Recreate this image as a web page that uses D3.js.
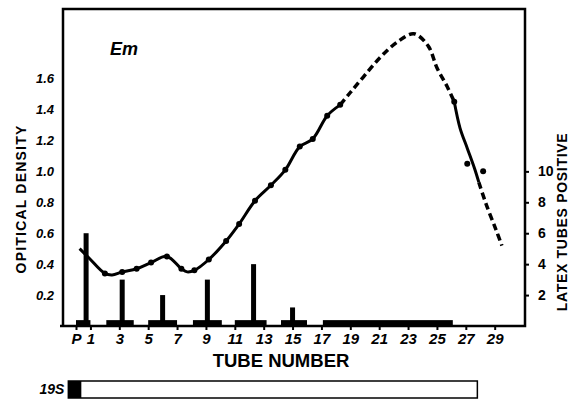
<!DOCTYPE html>
<meta charset="utf-8">
<script src="https://d3js.org/d3.v7.min.js"></script>
<body style="margin:0;background:#fff">
<div id="my_dataviz"></div>
<script>
// optical density curve (left axis), solid part with dots
const odTubes  = [0.25, 0.9, 2.0, 2.5, 3.2, 4.2, 5.2, 6.3, 7.3, 7.7, 8.2, 9.2, 10.4, 11.3, 12.4, 13.5, 14.5, 15.5, 16.4, 17.4, 18.3];
const odValues = [0.50, 0.44, 0.34, 0.33, 0.35, 0.37, 0.41, 0.45, 0.37, 0.35, 0.36, 0.43, 0.55, 0.66, 0.81, 0.91, 1.01, 1.16, 1.21, 1.36, 1.43];
// dashed peak
const peakTubes  = [18.3, 19.0, 19.9, 21.1, 22.3, 23.4, 24.4, 25.0, 25.7, 26.2];
const peakValues = [1.43, 1.51, 1.61, 1.74, 1.84, 1.89, 1.81, 1.67, 1.55, 1.45];
// solid descent
const fallTubes  = [26.2, 26.6, 27.1, 27.6, 27.9];
const fallValues = [1.45, 1.28, 1.15, 1.02, 0.93];
// dashed tail
const tailTubes  = [27.9, 28.4, 29.1, 29.5];
const tailValues = [0.93, 0.79, 0.62, 0.52];
// measured points
const dotTubes  = [2.0, 3.2, 4.2, 5.2, 6.3, 7.3, 8.2, 9.2, 10.4, 11.3, 12.4, 13.5, 14.5, 15.5, 16.4, 17.4, 18.3, 26.2, 27.1, 28.2];
const dotValues = [0.34, 0.35, 0.37, 0.41, 0.45, 0.37, 0.36, 0.43, 0.55, 0.66, 0.81, 0.91, 1.01, 1.16, 1.21, 1.36, 1.43, 1.45, 1.05, 1.00];

// latex tubes positive (right axis)
const latexTubes  = [0.7, 3.2, 6.0, 9.1, 12.3, 15.0];
const latexValues = [6, 3, 2, 3, 4, 1.2];
// tested tube ranges drawn as low blocks on the axis
const rangeStart = [0, 2.1, 5.0, 8.1, 11.0, 14.2, 17.1];
const rangeEnd   = [1, 4.0, 7.0, 10.1, 13.2, 16.0, 26.1];
const rangeLevel = 0.38;

// 19S band
const band19S = [-0.53, 27.8];
const fill19S = [-0.53, 0.37];

const xTicks = [0, 1, 3, 5, 7, 9, 11, 13, 15, 17, 19, 21, 23, 25, 27, 29];
const odTicks = [0.2, 0.4, 0.6, 0.8, 1.0, 1.2, 1.4, 1.6];
const latexTicks = [2, 4, 6, 8, 10];

const margin = {top: 9, right: 46, bottom: 78, left: 63},
  width = 571 - margin.left - margin.right,
  height = 404 - margin.top - margin.bottom;

const svg = d3.select("#my_dataviz")
  .append("svg")
    .attr("width", 571)
    .attr("height", 404)
  .append("g")
    .attr("transform", `translate(${margin.left}, ${margin.top})`);

const x = d3.scaleLinear().domain([-0.9, 31.1]).range([0, width]);
const y = d3.scaleLinear().domain([0, 2.05]).range([height, 0]);
const y2 = d3.scaleLinear().domain([0, 20.5]).range([height, 0]);

const numFont = "'Liberation Sans', Arial, sans-serif";

// x axis
const xAxis = svg.append("g")
  .attr("transform", `translate(0, ${height})`)
  .call(d3.axisBottom(x).tickValues(xTicks).tickSize(4).tickPadding(3)
    .tickFormat(d => d === 0 ? "P" : d));
xAxis.select(".domain").remove();
xAxis.selectAll("line").attr("stroke-width", 2);
xAxis.selectAll("text")
  .style("font-family", numFont).style("font-size", "15px")
  .style("font-weight", "bold").style("font-style", "italic");

// left axis labels only
const yAxis = svg.append("g")
  .call(d3.axisLeft(y).tickValues(odTicks).tickSize(0).tickPadding(9)
    .tickFormat(d3.format(".1f")));
yAxis.select(".domain").remove();
yAxis.selectAll("text")
  .style("font-family", numFont).style("font-size", "13px")
  .style("font-weight", "bold").style("font-style", "italic");

// right axis
const yAxis2 = svg.append("g")
  .attr("transform", `translate(${width}, 0)`)
  .call(d3.axisRight(y2).tickValues(latexTicks).tickSize(4).tickPadding(9));
yAxis2.select(".domain").remove();
yAxis2.selectAll("line").attr("stroke-width", 2);
yAxis2.selectAll("text")
  .style("font-family", numFont).style("font-size", "14px")
  .style("font-weight", "bold");

// frame
svg.append("path")
  .attr("d", `M-3,${height}H${width}V0H0V${height}`)
  .attr("fill", "none").attr("stroke", "#000").attr("stroke-width", 2.5);

// range blocks
svg.append("g").selectAll("rect")
  .data(rangeStart.map((s, i) => [s, rangeEnd[i]]))
  .join("rect")
    .attr("x", d => x(d[0]))
    .attr("width", d => x(d[1]) - x(d[0]))
    .attr("y", y2(rangeLevel))
    .attr("height", height - y2(rangeLevel))
    .attr("fill", "#000");

// latex bars
svg.append("g").selectAll("rect")
  .data(latexTubes.map((t, i) => [t, latexValues[i]]))
  .join("rect")
    .attr("x", d => x(d[0]) - 2.5)
    .attr("width", 5)
    .attr("y", d => y2(d[1]))
    .attr("height", d => height - y2(d[1]))
    .attr("fill", "#000");

// curves
const line = d3.line().x(d => x(d[0])).y(d => y(d[1])).curve(d3.curveCatmullRom);
function seg(ts, vs, dash) {
  svg.append("path")
    .datum(ts.map((t, i) => [t, vs[i]]))
    .attr("d", line)
    .attr("fill", "none").attr("stroke", "#000")
    .attr("stroke-width", dash ? 3.5 : 3)
    .attr("stroke-dasharray", dash ? "7,4" : null)
    .attr("stroke-linecap", "butt");
}
seg(odTubes, odValues, false);
seg(peakTubes, peakValues, true);
seg(fallTubes, fallValues, false);
seg(tailTubes, tailValues, true);

svg.append("g").selectAll("circle")
  .data(dotTubes.map((t, i) => [t, dotValues[i]]))
  .join("circle")
    .attr("cx", d => x(d[0]))
    .attr("cy", d => y(d[1]))
    .attr("r", 3)
    .attr("fill", "#000");

// titles
svg.append("text")
  .attr("x", 47).attr("y", 46)
  .style("font-family", numFont).style("font-size", "18px")
  .style("font-weight", "bold").style("font-style", "italic")
  .text("Em");

svg.append("text")
  .attr("x", x(14.2)).attr("y", height + 41)
  .attr("text-anchor", "middle")
  .style("font-family", numFont).style("font-size", "18.5px")
  .style("font-weight", "bold")
  .text("TUBE NUMBER");

svg.append("text")
  .attr("transform", `translate(${-63 + 26}, ${199 - margin.top}) rotate(-90)`)
  .attr("text-anchor", "middle")
  .style("font-family", numFont).style("font-size", "14px")
  .style("font-weight", "bold").style("letter-spacing", "1.2px")
  .text("OPITICAL DENSITY");

svg.append("text")
  .attr("transform", `translate(${width + 42}, ${222 - margin.top}) rotate(-90)`)
  .attr("text-anchor", "middle")
  .style("font-family", numFont).style("font-size", "14px")
  .style("font-weight", "bold").style("letter-spacing", "0.7px")
  .text("LATEX TUBES POSITIVE");

// 19S band
const bandY = 372, bandH = 17;
svg.append("rect")
  .attr("x", x(band19S[0])).attr("y", bandY)
  .attr("width", x(band19S[1]) - x(band19S[0])).attr("height", bandH)
  .attr("fill", "#fff").attr("stroke", "#000").attr("stroke-width", 1.5);
svg.append("rect")
  .attr("x", x(fill19S[0])).attr("y", bandY)
  .attr("width", x(fill19S[1]) - x(fill19S[0])).attr("height", bandH)
  .attr("fill", "#000");
svg.append("text")
  .attr("x", x(band19S[0]) - 4).attr("y", bandY + bandH / 2)
  .attr("dy", "0.35em").attr("text-anchor", "end")
  .style("font-family", numFont).style("font-size", "14px")
  .style("font-weight", "bold").style("font-style", "italic")
  .text("19S");
</script>
</body>
